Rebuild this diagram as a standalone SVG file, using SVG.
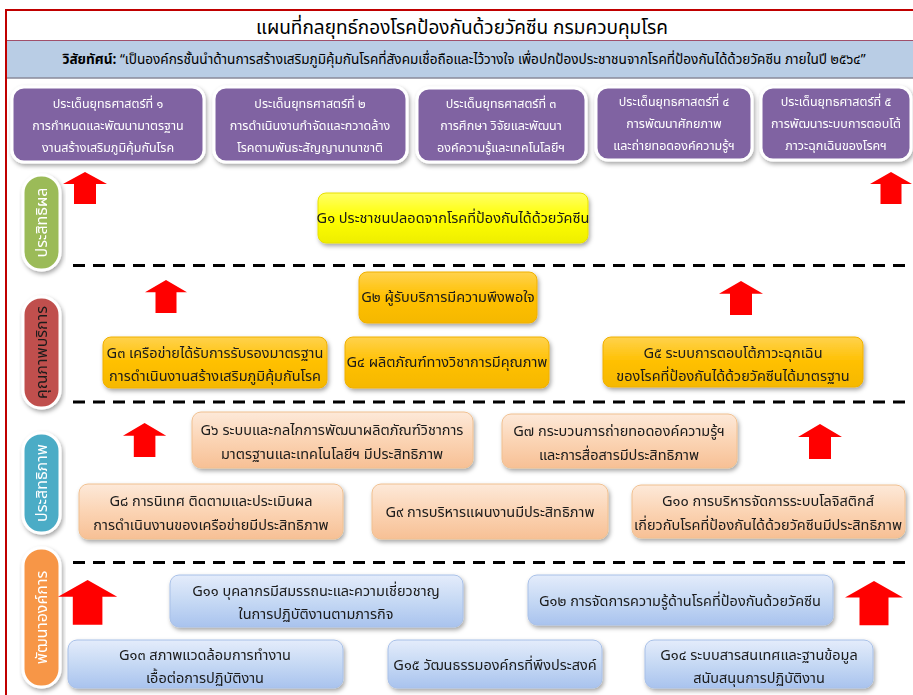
<svg xmlns="http://www.w3.org/2000/svg" width="913" height="695" viewBox="0 0 913 695">
<defs>
<style>
text{font-family:"Noto Sans Thai","Noto Sans","DejaVu Sans",sans-serif;}
.t{font-size:19px;fill:#000;text-anchor:middle}
.v{font-size:13.6px;fill:#000;text-anchor:middle}
.s{fill:#8064a2;stroke:#fff;stroke-width:3}
.st{font-size:12.5px;fill:#fff;text-anchor:middle}
.g{font-size:14.5px;fill:#1a1a1a;text-anchor:middle}
.side{font-size:16px;text-anchor:middle}
.dash{stroke:#000;stroke-width:3;stroke-dasharray:12,8;fill:none}
.arr{fill:#ff0000}
.gy{fill:url(#gYellow);stroke:#e8e000;stroke-width:1}
.go{fill:url(#gOrange);stroke:#f0b000;stroke-width:1}
.gp{fill:url(#gPeach);stroke:#f0c090;stroke-width:1}
.gb{fill:url(#gBlue);stroke:#a8c0e8;stroke-width:1}
</style>
<linearGradient id="gYellow" x1="0" y1="0" x2="0" y2="1"><stop offset="0" stop-color="#ffff66"/><stop offset="0.5" stop-color="#ffff00"/><stop offset="1" stop-color="#eeee00"/></linearGradient>
<linearGradient id="gOrange" x1="0" y1="0" x2="0" y2="1"><stop offset="0" stop-color="#ffd24d"/><stop offset="0.5" stop-color="#ffc000"/><stop offset="1" stop-color="#f5b800"/></linearGradient>
<linearGradient id="gPeach" x1="0" y1="0" x2="0" y2="1"><stop offset="0" stop-color="#fde9d9"/><stop offset="0.5" stop-color="#fbd4b4"/><stop offset="1" stop-color="#f7c095"/></linearGradient>
<linearGradient id="gBlue" x1="0" y1="0" x2="0" y2="1"><stop offset="0" stop-color="#e4ecfb"/><stop offset="0.5" stop-color="#c6d9f4"/><stop offset="1" stop-color="#a9c3ee"/></linearGradient>
<filter id="sh" x="-10%" y="-10%" width="125%" height="135%"><feDropShadow dx="1.5" dy="2.5" stdDeviation="2" flood-color="#000" flood-opacity="0.35"/></filter>
<path id="arrowShape" d="M0,12 L20,0 L40,12 L30,12 L30,32 L10,32 L10,12 Z"/>
</defs>
<rect width="913" height="695" fill="#fff"/>
<g id="frame">
<line x1="5" y1="10" x2="913" y2="10" stroke="#c00000" stroke-width="2"/>
<line x1="6" y1="10" x2="6" y2="695" stroke="#c00000" stroke-width="2"/>
<text class="t" x="462" y="34">แผนที่กลยุทธ์กองโรคป้องกันด้วยวัคซีน กรมควบคุมโรค</text>
</g>
<g id="vision">
<rect x="7" y="40" width="906" height="38" fill="#b9cde5"/>
<line x1="7" y1="40.5" x2="913" y2="40.5" stroke="#a0506a" stroke-width="1"/>
<line x1="7" y1="78" x2="913" y2="78" stroke="#8a8a9a" stroke-width="1.5"/>
<text class="v" x="464" y="64"><tspan font-weight="bold">วิสัยทัศน์:</tspan> “เป็นองค์กรชั้นนำด้านการสร้างเสริมภูมิคุ้มกันโรคที่สังคมเชื่อถือและไว้วางใจ เพื่อปกป้องประชาชนจากโรคที่ป้องกันได้ด้วยวัคซีน ภายในปี ๒๕๖๔”</text>
</g>
<g id="s1" filter="url(#sh)"><rect class="s" x="12" y="87" width="192" height="75" rx="12"/>
<text class="st" x="108" y="108">ประเด็นยุทธศาสตร์ที่ ๑</text><text class="st" x="108" y="130">การกำหนดและพัฒนามาตรฐาน</text><text class="st" x="108" y="152">งานสร้างเสริมภูมิคุ้มกันโรค</text></g>
<g id="s2" filter="url(#sh)"><rect class="s" x="214" y="87" width="193" height="75" rx="12"/>
<text class="st" x="310" y="108">ประเด็นยุทธศาสตร์ที่ ๒</text><text class="st" x="310" y="130">การดำเนินงานกำจัดและกวาดล้าง</text><text class="st" x="310" y="152">โรคตามพันธะสัญญานานาชาติ</text></g>
<g id="s3" filter="url(#sh)"><rect class="s" x="417" y="88" width="169" height="74" rx="12"/>
<text class="st" x="501" y="108">ประเด็นยุทธศาสตร์ที่ ๓</text><text class="st" x="501" y="130">การศึกษา วิจัยและพัฒนา</text><text class="st" x="501" y="152">องค์ความรู้และเทคโนโลยีฯ</text></g>
<g id="s4" filter="url(#sh)"><rect class="s" x="596" y="87" width="156" height="73" rx="12"/>
<text class="st" x="674" y="106">ประเด็นยุทธศาสตร์ที่ ๔</text><text class="st" x="674" y="128">การพัฒนาศักยภาพ</text><text class="st" x="674" y="150">และถ่ายทอดองค์ความรู้ฯ</text></g>
<g id="s5" filter="url(#sh)"><rect class="s" x="761" y="87" width="150" height="73" rx="12"/>
<text class="st" x="836" y="106">ประเด็นยุทธศาสตร์ที่ ๕</text><text class="st" x="836" y="128">การพัฒนาระบบการตอบโต้</text><text class="st" x="836" y="150">ภาวะฉุกเฉินของโรคฯ</text></g>
<g id="side1" filter="url(#sh)"><rect x="23" y="175" width="37" height="95" rx="18" fill="#9bbb59" stroke="#fff" stroke-width="3"/>
<text class="side" fill="#fff" transform="translate(47,222.5) rotate(-90)">ประสิทธิผล</text></g>
<g id="side2" filter="url(#sh)"><rect x="23" y="297" width="37" height="111" rx="18" fill="#c0504d" stroke="#fff" stroke-width="3"/>
<text class="side" fill="#1a1a1a" transform="translate(47,352.5) rotate(-90)">คุณภาพบริการ</text></g>
<g id="side3" filter="url(#sh)"><rect x="23" y="433" width="37" height="100" rx="18" fill="#4bacc6" stroke="#fff" stroke-width="3"/>
<text class="side" fill="#fff" transform="translate(47,483) rotate(-90)">ประสิทธิภาพ</text></g>
<g id="side4" filter="url(#sh)"><rect x="23" y="548" width="37" height="139" rx="18" fill="#f79646" stroke="#fff" stroke-width="3"/>
<text class="side" fill="#fff" transform="translate(47,617.5) rotate(-90)">พัฒนาองค์การ</text></g>
<g id="connectors">
<line class="dash" x1="73" y1="265.5" x2="910" y2="265.5"/>
<line class="dash" x1="73" y1="402" x2="910" y2="402"/>
<line class="dash" x1="73" y1="562.5" x2="910" y2="562.5"/>
<use href="#arrowShape" class="arr" transform="translate(63,172) scale(1.1,1)"/>
<use href="#arrowShape" class="arr" transform="translate(870,172) scale(1.05,1)"/>
<use href="#arrowShape" class="arr" transform="translate(145,280) scale(1.05,1.03)"/>
<use href="#arrowShape" class="arr" transform="translate(719,281) scale(1.1,1.06)"/>
<use href="#arrowShape" class="arr" transform="translate(123,423) scale(1.08,1.06)"/>
<use href="#arrowShape" class="arr" transform="translate(798,424) scale(1.1,1.09)"/>
<use href="#arrowShape" class="arr" transform="translate(58,580) scale(1.48,1.4)"/>
<use href="#arrowShape" class="arr" transform="translate(845,581) scale(1.45,1.38)"/>
</g>
<g id="G1" filter="url(#sh)"><rect class="gy" x="318" y="193" width="270" height="50" rx="8"/><text class="g" x="453" y="223">G๑ ประชาชนปลอดจากโรคที่ป้องกันได้ด้วยวัคซีน</text></g>
<g id="G2" filter="url(#sh)"><rect class="go" x="359" y="272" width="178" height="51" rx="8"/><text class="g" x="448" y="302">G๒ ผู้รับบริการมีความพึงพอใจ</text></g>
<g id="G3" filter="url(#sh)"><rect class="go" x="103" y="337" width="224" height="51" rx="8"/><text class="g" x="215" y="358">G๓ เครือข่ายได้รับการรับรองมาตรฐาน</text><text class="g" x="215" y="381">การดำเนินงานสร้างเสริมภูมิคุ้มกันโรค</text></g>
<g id="G4" filter="url(#sh)"><rect class="go" x="345" y="337" width="204" height="51" rx="8"/><text class="g" x="447" y="367">G๔ ผลิตภัณฑ์ทางวิชาการมีคุณภาพ</text></g>
<g id="G5" filter="url(#sh)"><rect class="go" x="603" y="337" width="260" height="50" rx="8"/><text class="g" x="733" y="358">G๕ ระบบการตอบโต้ภาวะฉุกเฉิน</text><text class="g" x="733" y="381">ของโรคที่ป้องกันได้ด้วยวัคซีนได้มาตรฐาน</text></g>
<g id="G6" filter="url(#sh)"><rect class="gp" x="192" y="412" width="281" height="56" rx="9"/><text class="g" x="332" y="435">G๖ ระบบและกลไกการพัฒนาผลิตภัณฑ์วิชาการ</text><text class="g" x="332" y="459">มาตรฐานและเทคโนโลยีฯ มีประสิทธิภาพ</text></g>
<g id="G7" filter="url(#sh)"><rect class="gp" x="502" y="414" width="235" height="54" rx="9"/><text class="g" x="619" y="436">G๗ กระบวนการถ่ายทอดองค์ความรู้ฯ</text><text class="g" x="619" y="460">และการสื่อสารมีประสิทธิภาพ</text></g>
<g id="G8" filter="url(#sh)"><rect class="gp" x="79" y="484" width="264" height="55" rx="9"/><text class="g" x="211" y="506">G๘ การนิเทศ ติดตามและประเมินผล</text><text class="g" x="211" y="530">การดำเนินงานของเครือข่ายมีประสิทธิภาพ</text></g>
<g id="G9" filter="url(#sh)"><rect class="gp" x="372" y="484" width="236" height="55" rx="9"/><text class="g" x="490" y="517">G๙ การบริหารแผนงานมีประสิทธิภาพ</text></g>
<g id="G10" filter="url(#sh)"><rect class="gp" x="632" y="485" width="273" height="53" rx="9"/><text class="g" x="768" y="506">G๑๐ การบริหารจัดการระบบโลจิสติกส์</text><text class="g" x="768" y="530">เกี่ยวกับโรคที่ป้องกันได้ด้วยวัคซีนมีประสิทธิภาพ</text></g>
<g id="G11" filter="url(#sh)"><rect class="gb" x="170" y="575" width="293" height="52" rx="9"/><text class="g" x="316" y="596">G๑๑ บุคลากรมีสมรรถนะและความเชี่ยวชาญ</text><text class="g" x="316" y="619">ในการปฏิบัติงานตามภารกิจ</text></g>
<g id="G12" filter="url(#sh)"><rect class="gb" x="528" y="575" width="305" height="50" rx="9"/><text class="g" x="680" y="606">G๑๒ การจัดการความรู้ด้านโรคที่ป้องกันด้วยวัคซีน</text></g>
<g id="G13" filter="url(#sh)"><rect class="gb" x="68" y="640" width="275" height="48" rx="9"/><text class="g" x="205" y="660">G๑๓ สภาพแวดล้อมการทำงาน</text><text class="g" x="205" y="683">เอื้อต่อการปฏิบัติงาน</text></g>
<g id="G15" filter="url(#sh)"><rect class="gb" x="388" y="640" width="214" height="48" rx="9"/><text class="g" x="495" y="670">G๑๕ วัฒนธรรมองค์กรที่พึงประสงค์</text></g>
<g id="G14" filter="url(#sh)"><rect class="gb" x="645" y="640" width="228" height="48" rx="9"/><text class="g" x="759" y="660">G๑๔ ระบบสารสนเทศและฐานข้อมูล</text><text class="g" x="759" y="683">สนับสนุนการปฏิบัติงาน</text></g>
</svg>
